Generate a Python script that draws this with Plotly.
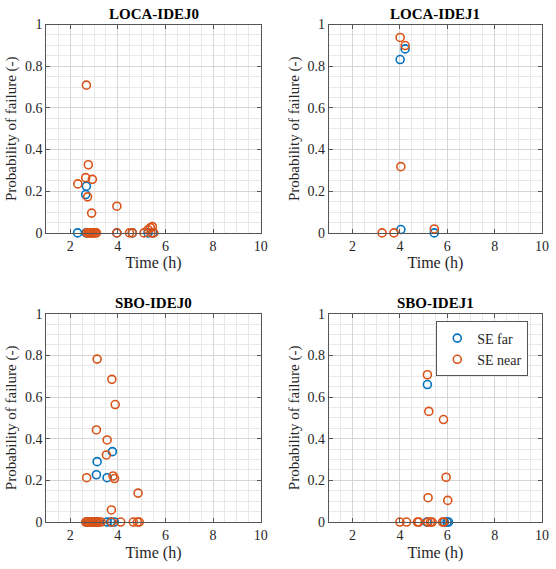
import plotly.graph_objects as go

# ---------------- data ----------------
titles = ["LOCA-IDEJ0", "LOCA-IDEJ1", "SBO-IDEJ0", "SBO-IDEJ1"]
series_names = ["SE far", "SE near"]

# LOCA-IDEJ0
loca0_far_t = [2.31, 2.67, 2.65, 2.68, 3.96, 4.61, 5.27, 5.48]
loca0_far_p = [0.0, 0.0, 0.184, 0.224, 0.0, 0.0, 0.0, 0.0]
loca0_near_t = [2.68, 2.76, 2.65, 2.93, 2.32, 2.73, 3.96, 2.90, 5.27, 5.37, 5.45,
                2.70, 2.75, 2.80, 2.85, 2.90, 2.95, 3.00, 3.05, 3.10, 3.96, 4.49,
                4.61, 5.10, 5.39, 5.51]
loca0_near_p = [0.709, 0.327, 0.265, 0.257, 0.235, 0.173, 0.128, 0.095, 0.015, 0.025, 0.03,
                0, 0, 0, 0, 0, 0, 0, 0, 0, 0, 0,
                0, 0, 0, 0]

# LOCA-IDEJ1
loca1_far_t = [4.22, 4.01, 4.04, 5.45]
loca1_far_p = [0.883, 0.832, 0.016, 0.0]
loca1_near_t = [4.01, 4.22, 4.04, 3.25, 3.75, 5.45]
loca1_near_p = [0.938, 0.899, 0.318, 0.0, 0.0, 0.019]

# SBO-IDEJ0
sbo0_far_t = [3.77, 3.13, 3.10, 3.55, 2.70, 3.10, 3.55, 3.70, 3.85]
sbo0_far_p = [0.338, 0.290, 0.227, 0.213, 0.0, 0.0, 0.0, 0.0, 0.0]
sbo0_near_t = [3.13, 3.75, 3.89, 3.10, 3.55, 3.52, 2.69, 3.80, 3.86, 4.85, 3.73,
               2.65, 2.70, 2.75, 2.80, 2.85, 2.90, 2.95, 3.00, 3.05, 3.10, 3.15,
               3.20, 3.30, 3.74, 4.12, 4.65, 4.82, 4.90]
sbo0_near_p = [0.782, 0.685, 0.564, 0.442, 0.394, 0.322, 0.213, 0.221, 0.209, 0.139, 0.058,
               0, 0, 0, 0, 0, 0, 0, 0, 0, 0, 0,
               0, 0, 0, 0, 0, 0, 0]

# SBO-IDEJ1
sbo1_far_t = [5.16, 5.14, 5.88, 5.99, 6.05]
sbo1_far_p = [0.660, 0.0, 0.0, 0.0, 0.0]
sbo1_near_t = [5.16, 5.22, 5.84, 5.95, 5.19, 6.02,
               4.00, 4.28, 4.74, 4.80, 5.18, 5.29, 5.36, 5.80, 5.86]
sbo1_near_p = [0.707, 0.531, 0.492, 0.215, 0.117, 0.104,
               0, 0, 0, 0, 0, 0, 0, 0, 0]

panels = [
    (loca0_far_t, loca0_far_p, loca0_near_t, loca0_near_p),
    (loca1_far_t, loca1_far_p, loca1_near_t, loca1_near_p),
    (sbo0_far_t, sbo0_far_p, sbo0_near_t, sbo0_near_p),
    (sbo1_far_t, sbo1_far_p, sbo1_near_t, sbo1_near_p),
]

x_ticks = [2, 4, 6, 8, 10]
y_ticks = [0, 0.2, 0.4, 0.6, 0.8, 1]
x_label = "Time (h)"
y_label = "Probability of failure (-)"

# ---------------- style ----------------
W, H = 556, 569
FONT = "Liberation Serif"
BLUE = "#0072BD"
ORANGE = "#D95319"
AXC = "#555555"

# panel pixel boxes (left, right, top, bottom)
boxes = [(47, 264, 18, 232), (333, 549, 18, 232),
         (47, 264, 315, 529), (333, 549, 315, 529)]

fig = go.Figure()
layout = {}
annotations = []
for i, (ft, fp, nt, np_) in enumerate(panels):
    k = "" if i == 0 else str(i + 1)
    xa, ya = "x" + k, "y" + k
    fig.add_trace(go.Scatter(
        x=ft, y=fp, mode="markers", name=series_names[0], xaxis=xa, yaxis=ya,
        marker=dict(symbol="circle-open", size=8, color=BLUE, line=dict(width=1.6, color=BLUE)),
        showlegend=(i == 3), cliponaxis=False))
    fig.add_trace(go.Scatter(
        x=nt, y=np_, mode="markers", name=series_names[1], xaxis=xa, yaxis=ya,
        marker=dict(symbol="circle-open", size=8, color=ORANGE, line=dict(width=1.6, color=ORANGE)),
        showlegend=(i == 3), cliponaxis=False))
    l, r, t, b = boxes[i]
    xdom = [l / W, r / W]
    ydom = [(H - b) / H, (H - t) / H]
    common = dict(showline=True, linecolor=AXC, linewidth=1, mirror="ticks",
                  ticks="inside", ticklen=4, tickcolor=AXC, zeroline=False,
                  showgrid=True, gridcolor="#d6d6d6", gridwidth=1,
                  tickfont=dict(family=FONT, size=14, color="#262626"))
    layout["xaxis" + k] = dict(
        domain=xdom, anchor=ya, range=[1, 10], tickvals=x_ticks,
        minor=dict(dtick=0.5, tick0=0, showgrid=True, gridcolor="#e8e8e8", ticks=""),
        title=dict(text=x_label, font=dict(family=FONT, size=16, color="#262626"), standoff=4),
        **common)
    layout["yaxis" + k] = dict(
        domain=ydom, anchor=xa, range=[0, 1], tickvals=y_ticks,
        minor=dict(dtick=0.05, tick0=0, showgrid=True, gridcolor="#e8e8e8", ticks=""),
        title=dict(text=y_label, font=dict(family=FONT, size=15, color="#262626"), standoff=4),
        **common)
    annotations.append(dict(
        text="<b>" + titles[i] + "</b>", xref="paper", yref="paper",
        x=(l + r) / 2 / W, y=(H - t + 1) / H, xanchor="center", yanchor="bottom",
        showarrow=False, font=dict(family=FONT, size=15, color="black")))

fig.update_layout(
    width=W, height=H, margin=dict(l=0, r=0, t=0, b=0),
    paper_bgcolor="white", plot_bgcolor="white",
    font=dict(family=FONT),
    annotations=annotations,
    legend=dict(x=535 / W, y=(H - 323) / H, xanchor="right", yanchor="top",
                bgcolor="white", bordercolor=AXC, borderwidth=1,
                font=dict(family=FONT, size=14, color="#262626"),
                itemwidth=30, tracegroupgap=0),
    **layout)

fig.write_html("out.html")
